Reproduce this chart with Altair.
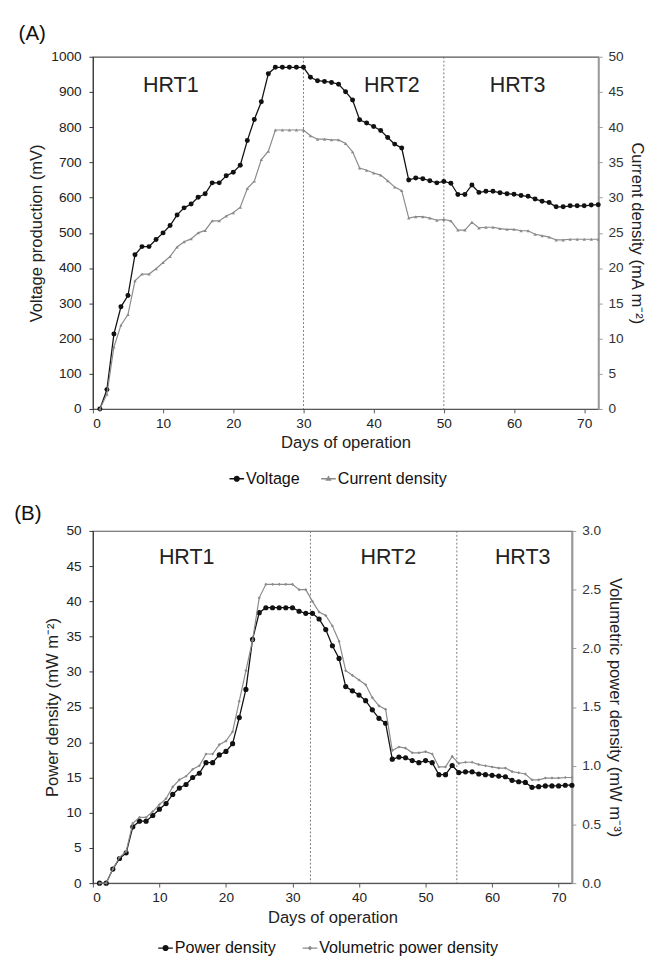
import altair as alt
import pandas as pd

# ---------------- data ----------------
days = list(range(1, 73))

voltage_mv = [0, 55, 213, 290, 322, 438, 461, 461, 481, 500,
              521, 551, 571, 582, 601, 611, 642, 642, 662, 672,
              692, 762, 822, 872, 952, 970, 970, 970, 970, 970,
              942, 932, 930, 927, 922, 901, 877, 821, 812, 802,
              791, 771, 752, 741, 650, 656, 654, 648, 642, 646,
              641, 609, 609, 636, 615, 618, 618, 614, 611, 610,
              606, 604, 596, 590, 586, 574, 574, 577, 577, 577,
              579, 580]

current_ma = [0, 2.1, 8.8, 11.9, 13.4, 18.2, 19.15, 19.15, 19.9, 20.8,
              21.65, 23.0, 23.75, 24.15, 25.0, 25.35, 26.7, 26.7, 27.4, 27.85,
              28.65, 31.3, 32.35, 35.4, 36.6, 39.6, 39.6, 39.6, 39.6, 39.6,
              38.8, 38.3, 38.3, 38.2, 38.2, 37.7, 36.5, 34.2, 33.9, 33.5,
              33.2, 32.4, 31.5, 31.0, 27.1, 27.3, 27.3, 27.1, 26.8, 26.9,
              26.7, 25.4, 25.4, 26.5, 25.7, 25.8, 25.8, 25.6, 25.5, 25.5,
              25.3, 25.3, 24.8, 24.6, 24.4, 24.0, 24.0, 24.1, 24.1, 24.1,
              24.1, 24.1]

power_mw_m2 = [0, 0, 2.0, 3.5, 4.3, 8.0, 8.8, 8.8, 9.6, 10.5,
               11.3, 12.6, 13.5, 14.0, 15.0, 15.6, 17.1, 17.1, 18.2, 18.7,
               19.8, 23.5, 27.5, 34.6, 38.4, 39.1, 39.1, 39.1, 39.1, 39.1,
               38.6, 38.3, 38.3, 37.5, 36.0, 33.7, 31.9, 27.9, 27.3, 26.7,
               25.9, 24.6, 23.4, 22.7, 17.6, 17.9, 17.8, 17.4, 17.1, 17.4,
               17.1, 15.4, 15.4, 16.7, 15.7, 15.8, 15.8, 15.5, 15.4, 15.3,
               15.2, 15.1, 14.6, 14.4, 14.3, 13.6, 13.7, 13.8, 13.8, 13.8,
               13.9, 13.9]

vol_power_mw_m3 = [0, 0, 0.12, 0.22, 0.27, 0.51, 0.56, 0.56, 0.61, 0.67,
                   0.72, 0.82, 0.88, 0.91, 0.97, 1.00, 1.10, 1.10, 1.18, 1.21,
                   1.29, 1.55, 1.81, 2.07, 2.43, 2.545, 2.545, 2.545, 2.545, 2.545,
                   2.50, 2.50, 2.40, 2.31, 2.28, 2.19, 2.06, 1.81, 1.77, 1.73,
                   1.69, 1.58, 1.51, 1.48, 1.13, 1.16, 1.15, 1.11, 1.11, 1.12,
                   1.10, 0.99, 0.99, 1.08, 1.02, 1.03, 1.03, 1.01, 1.00, 0.99,
                   0.98, 0.98, 0.95, 0.94, 0.93, 0.88, 0.88, 0.895, 0.895, 0.895,
                   0.90, 0.90]

hrt_labels = ["HRT1", "HRT2", "HRT3"]
hrt_a_bounds = [30, 50]
hrt_a_x = [11.1, 42.6, 60.5]
hrt_a_y = [920, 920, 920]
hrt_b_bounds = [32.7, 54.7]
hrt_b_x = [14.1, 44.4, 64.6]
hrt_b_y = [46.3, 46.3, 46.3]

x_ticks = [0, 10, 20, 30, 40, 50, 60, 70]
volt_ticks = list(range(0, 1001, 100))
cur_ticks = list(range(0, 51, 5))
pow_ticks = list(range(0, 51, 5))
vol_ticks = [0.0, 0.5, 1.0, 1.5, 2.0, 2.5, 3.0]

# ---------------- style ----------------
FONT = "Liberation Sans"
BLACK = "#111111"
GRAY = "#8a8a8a"
TXT = "#222222"

LEG_CIRCLE = ("M-1,0L1,0M-0.33,0A0.33,0.33 0 1 1 0.33,0A0.33,0.33 0 1 1 -0.33,0"
              "M-0.17,0A0.17,0.17 0 1 1 0.17,0A0.17,0.17 0 1 1 -0.17,0")
LEG_TRI = "M-1,0L1,0M-0.28,0.2L0.28,0.2L0,-0.28ZM-0.13,0.1L0.13,0.1L0,-0.12Z"
LEG_DIAM = "M-1,0L1,0M-0.2,0L0,-0.2L0.2,0L0,0.2Z"


def x_enc():
    return alt.X("day:Q",
                 scale=alt.Scale(domain=[0, 72], nice=False, zero=False),
                 axis=alt.Axis(values=x_ticks, title="Days of operation",
                               domainColor="#555", tickColor="#555",
                               labelPadding=4, titlePadding=5))


def panel(left_vals, right_vals, left_name, right_name, left_title, right_title,
          left_dom, left_tk, right_dom, right_tk, right_fmt, bounds, hx, hy,
          left_pt, right_pt, leg_right_shape, w, h, label, title_dx, title_off,
          leg_x, leg_y, leg_gap):
    df_l = pd.DataFrame({"day": days, "value": left_vals, "series": left_name})
    df_r = pd.DataFrame({"day": days, "value": right_vals, "series": right_name})
    df_all = pd.concat([df_l, df_r], ignore_index=True)
    df_b = pd.DataFrame({"day": bounds})
    df_t = pd.DataFrame({"day": hx, "value": hy, "label": hrt_labels})

    y_left = alt.Y("value:Q", scale=alt.Scale(domain=left_dom, nice=False),
                   axis=alt.Axis(values=left_tk, title=left_title, orient="left",
                                 format="d", domainColor="#333", tickColor="#333",
                                 labelPadding=8, titlePadding=5))
    y_right = alt.Y("value:Q", scale=alt.Scale(domain=right_dom, nice=False),
                    axis=alt.Axis(values=right_tk, title=right_title, orient="right",
                                  format=right_fmt, domainColor="#999",
                                  domainWidth=2, tickColor="#999",
                                  labelColor="#333", labelPadding=6,
                                  titlePadding=5))

    rules = alt.Chart(df_b).mark_rule(color="#777", strokeDash=[2, 2],
                                      strokeWidth=1).encode(x=x_enc())
    line_l = alt.Chart(df_l).mark_line(color=BLACK, strokeWidth=1.3).encode(
        x=x_enc(), y=y_left)
    pts_l = alt.Chart(df_l).mark_point(filled=True, opacity=1, color=BLACK,
                                       size=left_pt[1], shape=left_pt[0]).encode(
        x=x_enc(), y=y_left)
    text = alt.Chart(df_t).mark_text(font=FONT, fontSize=22, color=TXT,
                                     align="center", baseline="middle").encode(
        x=x_enc(), y=y_left, text="label:N")
    legend = alt.Legend(orient="none", legendX=leg_x, legendY=leg_y,
                        direction="horizontal", title=None, symbolSize=225,
                        symbolStrokeWidth=1.3, symbolOpacity=1,
                        labelFont=FONT, labelFontSize=16.5, labelColor="#111",
                        labelLimit=400, labelOffset=1, columnPadding=leg_gap)
    leg_layer = alt.Chart(df_all).mark_point(filled=False, opacity=0).encode(
        x=x_enc(), y=y_left,
        color=alt.Color("series:N",
                        scale=alt.Scale(domain=[left_name, right_name],
                                        range=[BLACK, GRAY]),
                        legend=legend),
        shape=alt.Shape("series:N",
                        scale=alt.Scale(domain=[left_name, right_name],
                                        range=[LEG_CIRCLE, leg_right_shape]),
                        legend=legend))
    line_r = alt.Chart(df_r).mark_line(color=GRAY, strokeWidth=1.2).encode(
        x=x_enc(), y=y_right)
    pts_r = alt.Chart(df_r).mark_point(filled=True, opacity=1, color=GRAY,
                                       size=right_pt[1], shape=right_pt[0]).encode(
        x=x_enc(), y=y_right)

    left = alt.layer(rules, line_l, pts_l, text, leg_layer)
    right = alt.layer(line_r, pts_r)
    return alt.layer(left, right).resolve_scale(y="independent").properties(
        width=w, height=h,
        title=alt.TitleParams(label, anchor="start", frame="bounds", font=FONT,
                              fontSize=21, fontWeight="normal", color="#111",
                              dx=title_dx, offset=title_off))


chart_a = panel(voltage_mv, current_ma, "Voltage", "Current density",
                "Voltage production (mV)", "Current density (mA m\u207b\u00b2)",
                [0, 1000], volt_ticks, [0, 50], cur_ticks, "d",
                hrt_a_bounds, hrt_a_x, hrt_a_y,
                ("circle", 26), ("triangle-up", 12), LEG_TRI,
                518, 361, "(A)", -10, 6, 139, 424, 18)

chart_b = panel(power_mw_m2, vol_power_mw_m3, "Power density",
                "Volumetric power density",
                "Power density (mW m\u207b\u00b2)",
                "Volumetric power density (mW m\u207b\u00b3)",
                [0, 50], pow_ticks, [0, 3], vol_ticks, ".1f",
                hrt_b_bounds, hrt_b_x, hrt_b_y,
                ("circle", 28), ("diamond", 10), LEG_DIAM,
                491, 361, "(B)", -30, 0, 66, 419, 24)

chart = alt.vconcat(chart_a, chart_b, spacing=15).resolve_scale(
    color="independent", shape="independent"
).properties(
    padding={"left": 5, "top": 3, "right": 2, "bottom": 0}
).configure(
    font=FONT
).configure_axis(
    labelFont=FONT, titleFont=FONT, labelFontSize=14, titleFontSize=17,
    titleFontWeight="normal", labelColor=TXT, titleColor=TXT, grid=False,
    tickSize=4
).configure_view(
    stroke="#555", strokeWidth=1.2
)

chart.save("out.html", embed_options={"renderer": "svg", "actions": False})
